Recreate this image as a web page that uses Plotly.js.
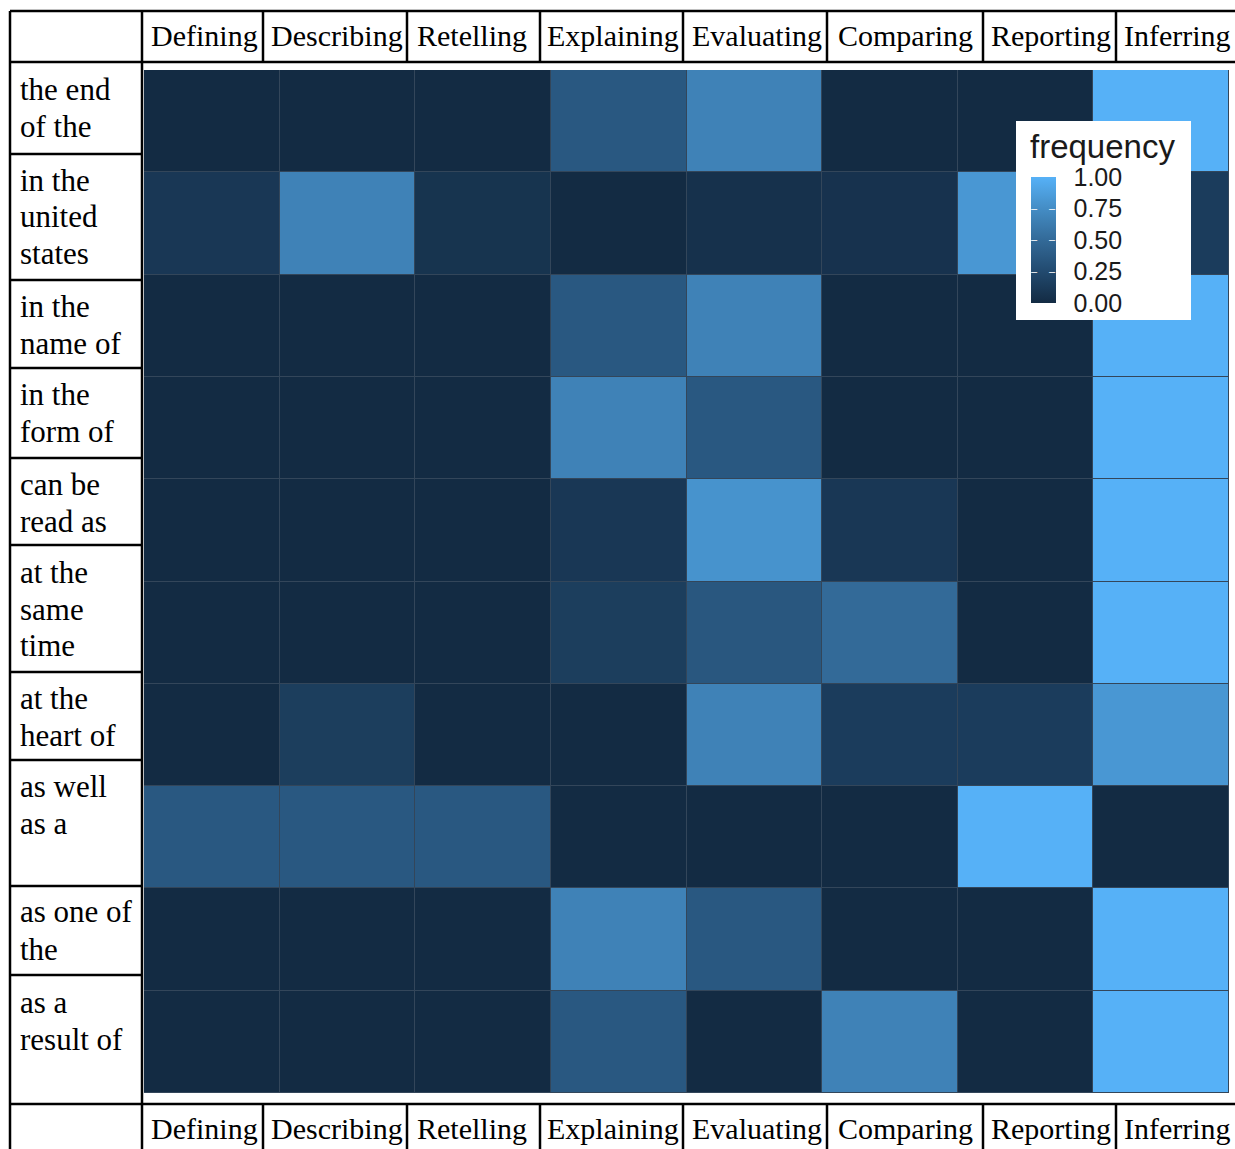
<!DOCTYPE html>
<html>
<head>
<meta charset="utf-8">
<script src="https://cdn.plot.ly/plotly-3.0.1.min.js"></script>
<style>html,body{margin:0;padding:0;background:#fff;}#chart{width:1235px;height:1149px;}</style>
</head>
<body>
<div id="chart"></div>
<script>
// ---- data ----
const columns = ['Defining','Describing','Retelling','Explaining','Evaluating','Comparing','Reporting','Inferring'];
const rowPhrases = ['the end of the','in the united states','in the name of','in the form of','can be read as','at the same time','at the heart of','as well as a','as one of the','as a result of'];
const rowPhraseLines = [['the end','of the'],['in the','united','states'],['in the','name of'],['in the','form of'],['can be','read as'],['at the','same','time'],['at the','heart of'],['as well','as a'],['as one of','the'],['as a','result of']];
// frequency per column, rows in the order of rowPhrases
const defining   = [0.00, 0.10, 0.00, 0.00, 0.00, 0.00, 0.00, 0.36, 0.00, 0.00];
const describing = [0.00, 0.67, 0.00, 0.00, 0.00, 0.00, 0.15, 0.36, 0.00, 0.00];
const retelling  = [0.00, 0.07, 0.00, 0.00, 0.00, 0.00, 0.00, 0.36, 0.00, 0.00];
const explaining = [0.36, 0.00, 0.36, 0.67, 0.10, 0.15, 0.00, 0.00, 0.67, 0.36];
const evaluating = [0.67, 0.05, 0.67, 0.36, 0.79, 0.35, 0.67, 0.00, 0.36, 0.00];
const comparing  = [0.00, 0.06, 0.00, 0.00, 0.10, 0.50, 0.14, 0.00, 0.00, 0.67];
const reporting  = [0.00, 0.82, 0.00, 0.00, 0.00, 0.00, 0.14, 1.00, 0.00, 0.00];
const inferring  = [1.00, 0.14, 1.00, 1.00, 1.00, 1.00, 0.82, 0.00, 1.00, 1.00];
const legendTitle = 'frequency';
const colorTickVals = [0, 0.25, 0.5, 0.75, 1];
const colorTickText = ['0.00','0.25','0.50','0.75','1.00'];

// ---- geometry (pixels) ----
const L = 144, T = 70, W = 1085, PH = 1023;
const px = v => (v - L) / W;
const py = v => (T + PH - v) / PH;
const headerLines = [142, 263, 407, 540, 683, 827, 983, 1116];
const headerCenters = [204, 337, 472, 613, 757, 905, 1051, 1177];
const rowLines = [62, 154, 280, 368, 458, 545, 672, 760, 886, 975, 1104];
const rowFirstLine = [91, 181, 307, 395, 485, 573, 699, 787, 913, 1003];
const lineStep = 37;
const barLeft = 1031, barRight = 1056, barTop = 177, barBottom = 303;

const seriesCols = [defining, describing, retelling, explaining, evaluating, comparing, reporting, inferring];
const z = rowPhrases.map((r, i) => seriesCols.map(c => c[i]));

const serif = 'Liberation Serif';
const sans = 'Liberation Sans';

const shapes = [];
function hline(y, x0, x1) { shapes.push({type:'line', xref:'paper', yref:'paper', x0:px(x0), x1:px(x1), y0:py(y), y1:py(y), line:{color:'#000', width:2.5}}); }
function vline(x, y0, y1) { shapes.push({type:'line', xref:'paper', yref:'paper', x0:px(x), x1:px(x), y0:py(y0), y1:py(y1), line:{color:'#000', width:2.5}}); }
hline(11, 10, 1236);
hline(62, 10, 1236);
hline(1104, 10, 1236);
vline(10, 11, 1150);
vline(142, 11, 1150);
headerLines.slice(1).forEach(x => { vline(x, 11, 62); vline(x, 1104, 1150); });
rowLines.slice(1, -1).forEach(y => hline(y, 10, 142));
// legend background box
shapes.push({type:'rect', layer:'above', xref:'paper', yref:'paper', x0:px(1016), x1:px(1191), y0:py(121), y1:py(320), fillcolor:'#fff', line:{width:0}});

const annotations = [];
columns.forEach((c, i) => {
  [35, 1128].forEach(y => annotations.push({xref:'paper', yref:'paper', x:px(headerCenters[i]), y:py(y), xanchor:'center', yanchor:'middle', text:c, showarrow:false, font:{family:serif, size:30, color:'#000'}}));
});
rowPhraseLines.forEach((lines, i) => {
  lines.forEach((t, k) => {
    annotations.push({xref:'paper', yref:'paper', x:px(18), y:py(rowFirstLine[i] - 1 + k * lineStep), xanchor:'left', yanchor:'middle', text:t, showarrow:false, font:{family:serif, size:31, color:'#000'}});
  });
});
annotations.push({xref:'paper', yref:'paper', x:px(1028), y:py(146), xanchor:'left', yanchor:'middle', text:legendTitle, showarrow:false, font:{family:sans, size:33, color:'#1a1a1a'}});
// small white tick marks drawn inside the colour bar (ggplot style)
colorTickVals.filter(v => v > 0 && v < 1).forEach(v => {
  const yy = py(barBottom - v * (barBottom - barTop) - 1);
  annotations.push({xref:'paper', yref:'paper', x:px(barLeft - 1), y:yy, xanchor:'left', yanchor:'middle', text:'–', showarrow:false, borderpad:0, font:{family:sans, size:11, color:'#fff'}});
  annotations.push({xref:'paper', yref:'paper', x:px(barRight + 1), y:yy, xanchor:'right', yanchor:'middle', text:'–', showarrow:false, borderpad:0, font:{family:sans, size:11, color:'#fff'}});
});

const trace = {
  type:'heatmap', x:columns, y:rowPhrases, z:z, zmin:0, zmax:1,
  xgap:1, ygap:1,
  colorscale:[[0,'#132B43'],[0.25,'#224A6F'],[0.5,'#336A98'],[0.75,'#448DC5'],[1,'#56B1F7']],
  hoverinfo:'skip',
  colorbar:{
    x:px(barLeft), xanchor:'left', y:py(barTop), yanchor:'top',
    len:barBottom - barTop, lenmode:'pixels', thickness:barRight - barLeft, thicknessmode:'pixels',
    xpad:0, ypad:0, bgcolor:'rgba(0,0,0,0)', outlinewidth:0, borderwidth:0,
    tickvals:colorTickVals, ticktext:colorTickText,
    ticks:'outside', ticklen:13, tickcolor:'rgba(255,255,255,0)',
    tickfont:{family:sans, size:25, color:'#1a1a1a'}
  }
};

const layout = {
  width:1235, height:1149,
  margin:{l:L, r:1235 - L - W, t:T, b:1149 - T - PH, pad:0},
  paper_bgcolor:'#fff', plot_bgcolor:'#33465a',
  xaxis:{showticklabels:false, ticks:'', showgrid:false, zeroline:false, showline:false, fixedrange:true},
  yaxis:{showticklabels:false, ticks:'', showgrid:false, zeroline:false, showline:false, autorange:'reversed', fixedrange:true},
  shapes:shapes, annotations:annotations, showlegend:false
};

Plotly.newPlot('chart', [trace], layout, {displayModeBar:false, staticPlot:true});
</script>
</body>
</html>
